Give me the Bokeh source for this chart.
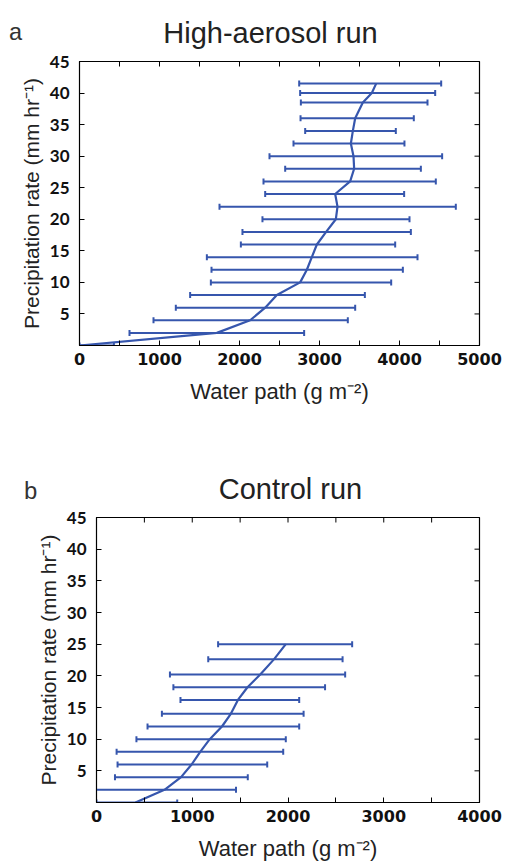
import numpy as np
from bokeh.plotting import figure
from bokeh.layouts import column, row
from bokeh.models import FixedTicker, Label, Range1d, Spacer
from bokeh.embed import file_html
from bokeh.resources import INLINE

# ---- data: High-aerosol run ----
hi_y = [0, 2, 4, 6, 8, 10, 12, 14, 16, 18, 20, 22, 24, 26, 28, 30, 32, 34, 36, 38.5, 40, 41.5]
hi_mean = [0, 1717, 2133, 2321, 2467, 2758, 2842, 2904, 2967, 3083, 3204, 3225, 3196, 3383,
           3433, 3425, 3392, 3417, 3446, 3542, 3654, 3708]
hi_lo = [0, 625, 925, 1204, 1383, 1642, 1650, 1592, 2017, 2037, 2287, 1750, 2321, 2300,
         2571, 2375, 2675, 2821, 2763, 2767, 2758, 2746]
hi_hi = [430, 2808, 3354, 3446, 3567, 3896, 4042, 4225, 3946, 4142, 4125, 4704, 4058, 4454,
         4267, 4533, 4062, 3954, 4179, 4350, 4446, 4521]

# ---- data: Control run ----
ctl_y = [0, 2, 4, 6, 8, 10, 12, 14, 16.2, 18.2, 20.2, 22.6, 25]
ctl_mean = [407, 710, 883, 993, 1083, 1183, 1310, 1403, 1477, 1577, 1710, 1853, 1977]
ctl_lo = [0, -100, 193, 220, 210, 417, 533, 683, 877, 803, 767, 1167, 1270]
ctl_hi = [843, 1457, 1580, 1783, 1950, 1977, 2117, 2163, 2117, 2387, 2597, 2570, 2670]

y_ticks = [0, 5, 10, 15, 20, 25, 30, 35, 40, 45]
x_ticks_a = [0, 500, 1000, 1500, 2000, 2500, 3000, 3500, 4000, 4500, 5000]
x_ticks_b = [0, 500, 1000, 1500, 2000, 2500, 3000, 3500, 4000]

COLOR = "#3656ad"
TICK_FONT_Y = "Lato"
TICK_FONT_X = "DejaVu Sans"
LABEL_FONT = "Liberation Sans"


def make_header(height, title, title_x, title_y, letter, letter_x, letter_y):
    h = figure(width=522, height=height, output_backend="svg", toolbar_location=None,
               x_range=Range1d(0, 522), y_range=Range1d(0, height),
               min_border_left=0, min_border_right=0, min_border_top=0,
               min_border_bottom=0)
    h.axis.visible = False
    h.xgrid.visible = False
    h.ygrid.visible = False
    h.outline_line_color = None
    h.background_fill_color = "white"
    h.border_fill_color = "white"
    h.add_layout(Label(x=title_x, y=title_y, text=title, text_align="center",
                       text_baseline="alphabetic", text_font=LABEL_FONT,
                       text_font_size="29px", text_color="#222222"))
    h.add_layout(Label(x=letter_x, y=letter_y, text=letter, text_align="left",
                       text_baseline="alphabetic", text_font="Liberation Mono",
                       text_font_size="24px", text_color="#333333"))
    return h


def make_panel(ys, mean, lo, hi, xt, xmax, width, height, top, bottom):
    p = figure(width=width, height=height, output_backend="svg", toolbar_location=None,
               x_range=Range1d(0, xmax), y_range=Range1d(0, 45),
               min_border_left=79, min_border_right=43,
               min_border_top=top, min_border_bottom=bottom)
    p.xgrid.visible = False
    p.ygrid.visible = False
    p.outline_line_color = "black"
    p.outline_line_width = 1.2
    p.background_fill_color = "white"
    p.border_fill_color = "white"

    xover = {t: ("" if t % 1000 else str(t)) for t in xt}
    yover = {t: ("" if t == 0 else str(t)) for t in y_ticks}

    xa = p.xaxis[0]
    xa.ticker = FixedTicker(ticks=xt)
    xa.major_label_overrides = xover
    xa.axis_label = "Water path (g m\u207b\u00b2)"
    ya = p.yaxis[0]
    ya.ticker = FixedTicker(ticks=y_ticks)
    ya.major_label_overrides = yover
    ya.axis_label = "Precipitation rate (mm hr\u207b\u00b9)"

    for ax in (xa, ya):
        ax.major_tick_in = 5
        ax.major_tick_out = 0
        ax.minor_tick_in = 0
        ax.minor_tick_out = 0
        ax.axis_line_color = "black"
        ax.major_tick_line_color = "black"
        ax.axis_label_text_font = LABEL_FONT
        ax.axis_label_text_font_style = "normal"
        ax.axis_label_text_color = "#222222"
        ax.major_label_text_font_style = "bold"
        ax.major_label_text_color = "#111111"
    xa.axis_label_text_font_size = "22px"
    ya.axis_label_text_font_size = "21px"
    xa.major_label_text_font = TICK_FONT_X
    xa.major_label_text_font_size = "16px"
    xa.major_label_standoff = 7
    xa.axis_label_standoff = 11
    ya.major_label_text_font = TICK_FONT_Y
    ya.major_label_text_font_size = "17px"
    ya.major_label_standoff = 10
    ya.axis_label_standoff = 4

    # ticks on top and right edges (inside the box), clipped to the frame
    p.scatter(x=xt, y=[45] * len(xt), marker="dash", angle=np.pi / 2, size=10,
              line_color="black", line_width=1)
    p.scatter(x=[xmax] * len(y_ticks), y=y_ticks, marker="dash", size=10,
              line_color="black", line_width=1)

    # error bars
    p.segment(x0=lo, y0=ys, x1=hi, y1=ys, line_color=COLOR, line_width=2)
    p.scatter(x=lo, y=ys, marker="dash", angle=np.pi / 2, size=6, line_color=COLOR,
              line_width=2)
    p.scatter(x=hi, y=ys, marker="dash", angle=np.pi / 2, size=6, line_color=COLOR,
              line_width=2)
    # mean line
    p.line(x=mean, y=ys, line_color=COLOR, line_width=2.2)
    return p


h1 = make_header(49, "High-aerosol run", 270, 17, "a", 8, 16)
p1 = make_panel(hi_y, hi_mean, hi_lo, hi_hi, x_ticks_a, 5000, 522, 382, 12, 86)
h2 = make_header(74, "Control run", 290, 17, "b", 23, 13)
p2 = make_panel(ctl_y, ctl_mean, ctl_lo, ctl_hi, x_ticks_b, 4000, 505, 358, 12, 61)

layout = column(row(h1), row(p1), row(h2), row(Spacer(width=17, height=358), p2, spacing=0),
                spacing=0)
open("out.html", "w").write(file_html(layout, INLINE))
